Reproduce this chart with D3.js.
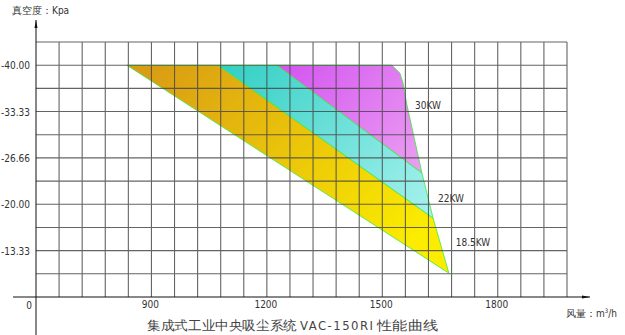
<!DOCTYPE html>
<html>
<head>
<meta charset="utf-8">
<script src="https://cdn.jsdelivr.net/npm/d3@7"></script>
<style>
  body { margin: 0; background: #fff; }
  svg text { font-family: 'Liberation Sans Narrow', 'DejaVu Sans Condensed', sans-serif; fill: #333; }
</style>
</head>
<body>
<div id="chart"></div>
<script>
// data
const xTicks = [900, 1200, 1500, 1800];
const yTicks = [-13.33, -20.00, -26.66, -33.33, -40.00];
const yTickLabels = ['-13.33', '-20.00', '-26.66', '-33.33', '-40.00'];

// where each band starts on the -40 kPa line (m3/h)
const bandStart = [836, 1073, 1226, 1525];
// outer (max flow) curve
const curveFlow = [1525, 1546, 1554, 1564, 1603, 1632, 1673];
const curveKpa = [-40, -38.85, -37.4, -34.3, -24.5, -18.0, -10.1];

const bands = ['18.5KW', '22KW', '30KW'];
// index on the curve where each band's lower edge ends
const bandEnd = [6, 5, 4];
const labelFlow = [1691, 1645, 1585];
const labelKpa = [-14.0, -20.3, -33.7];

const width = 625, height = 335;

const svg = d3.select('#chart')
  .append('svg')
  .attr('width', width)
  .attr('height', height);

const x = d3.scaleLinear().domain([600, 1980]).range([36, 567]);
const y = d3.scaleLinear().domain([-6.667, -43.333]).range([297, 42]);

// gradients
const grads = [
  { id: 'g185', c0: '#d99c14', c1: '#fbec00' },
  { id: 'g22', c0: '#1ac8bc', c1: '#a8f2ee' },
  { id: 'g30', c0: '#c82cf0', c1: '#f0b0f2' }
];
const defs = svg.append('defs');
grads.forEach(g => {
  const lg = defs.append('linearGradient')
    .attr('id', g.id)
    .attr('gradientUnits', 'userSpaceOnUse')
    .attr('x1', x(900)).attr('y1', y(-40))
    .attr('x2', x(1500)).attr('y2', y(-10));
  lg.append('stop').attr('offset', '0%').attr('stop-color', g.c0);
  lg.append('stop').attr('offset', '100%').attr('stop-color', g.c1);
});

const curve = curveFlow.map((f, i) => [f, curveKpa[i]]);

// polygons for each band
const polys = bands.map((name, i) => {
  const pts = [[bandStart[i], -40], [bandStart[i + 1], -40]];
  if (i === 2) {
    curve.slice(1, bandEnd[i] + 1).forEach(p => pts.push(p));
  } else {
    curve.slice(bandEnd[i + 1], bandEnd[i] + 1).forEach(p => pts.push(p));
  }
  return pts;
});

const line = d3.line().x(d => x(d[0])).y(d => y(d[1]));

svg.append('g')
  .selectAll('path')
  .data(polys)
  .enter()
  .append('path')
  .attr('d', d => line(d) + 'Z')
  .attr('fill', (_, i) => `url(#${grads[i].id})`)
  .attr('stroke', '#3ee83e')
  .attr('stroke-width', 0.8);

// grid
const grid = svg.append('g')
  .attr('stroke', '#4a4a4a')
  .attr('stroke-width', 1.1)
  .attr('opacity', 0.85);

const vLines = d3.range(660, 1981, 60);
grid.selectAll('.v')
  .data(vLines)
  .enter()
  .append('line')
  .attr('x1', d => x(d)).attr('x2', d => x(d))
  .attr('y1', y(-43.333)).attr('y2', y(-6.667));

const hLines = d3.range(1, 12).map(i => -6.667 - i * 3.3333);
grid.selectAll('.h')
  .data(hLines)
  .enter()
  .append('line')
  .attr('x1', x(600)).attr('x2', x(1980))
  .attr('y1', d => y(d)).attr('y2', d => y(d));

// axes
svg.append('line')
  .attr('x1', 13).attr('x2', 590)
  .attr('y1', y(-6.667)).attr('y2', y(-6.667))
  .attr('stroke', '#111').attr('stroke-width', 1);
svg.append('path')
  .attr('d', `M590,${y(-6.667)} l-8,-1.5 l0,3 Z`)
  .attr('fill', '#111');

svg.append('line')
  .attr('x1', x(600)).attr('x2', x(600))
  .attr('y1', 20).attr('y2', 335)
  .attr('stroke', '#111').attr('stroke-width', 1);
svg.append('path')
  .attr('d', `M${x(600)},20 l-1.5,8 l3,0 Z`)
  .attr('fill', '#111');

// tick labels
svg.append('g')
  .selectAll('text')
  .data(yTicks)
  .enter()
  .append('text')
  .attr('x', 30)
  .attr('y', d => y(d))
  .attr('dy', 4)
  .attr('text-anchor', 'end')
  .attr('font-size', 10)
  .text((_, i) => yTickLabels[i]);

svg.append('text')
  .attr('x', 29).attr('y', y(-6.667) + 12)
  .attr('text-anchor', 'middle')
  .attr('font-size', 10)
  .text('0');

svg.append('g')
  .selectAll('text')
  .data(xTicks)
  .enter()
  .append('text')
  .attr('x', d => x(d) - 1)
  .attr('y', y(-6.667) + 11)
  .attr('text-anchor', 'middle')
  .attr('font-size', 10)
  .text(d => d);

// band labels
svg.append('g')
  .selectAll('text')
  .data(bands)
  .enter()
  .append('text')
  .attr('x', (_, i) => x(labelFlow[i]))
  .attr('y', (_, i) => y(labelKpa[i]))
  .attr('font-size', 10)
  .text(d => d);

// axis titles
svg.append('text')
  .attr('x', 12).attr('y', 14)
  .attr('font-size', 10)
  .text('真空度：Kpa');

svg.append('text')
  .attr('x', 566).attr('y', 317)
  .attr('font-size', 10)
  .html('风量：m<tspan dy="-4" font-size="6">3</tspan><tspan dy="4">/h</tspan>');

// chart title
const title = svg.append('g').attr('font-size', 13);
title.append('text')
  .attr('x', 147).attr('y', 330)
  .attr('textLength', 150).attr('lengthAdjust', 'spacingAndGlyphs')
  .attr('font-family', "'Noto Sans CJK SC', sans-serif")
  .attr('font-weight', 300)
  .style('fill', '#444')
  .text('集成式工业中央吸尘系统');
title.append('text')
  .attr('x', 300).attr('y', 330)
  .attr('textLength', 73).attr('lengthAdjust', 'spacing')
  .attr('font-family', 'DejaVu Sans, sans-serif')
  .attr('font-weight', 300)
  .style('fill', '#444')
  .text('VAC-150RI');
title.append('text')
  .attr('x', 377).attr('y', 330)
  .attr('textLength', 61).attr('lengthAdjust', 'spacingAndGlyphs')
  .attr('font-family', "'Noto Sans CJK SC', sans-serif")
  .attr('font-weight', 300)
  .style('fill', '#444')
  .text('性能曲线');
</script>
</body>
</html>
